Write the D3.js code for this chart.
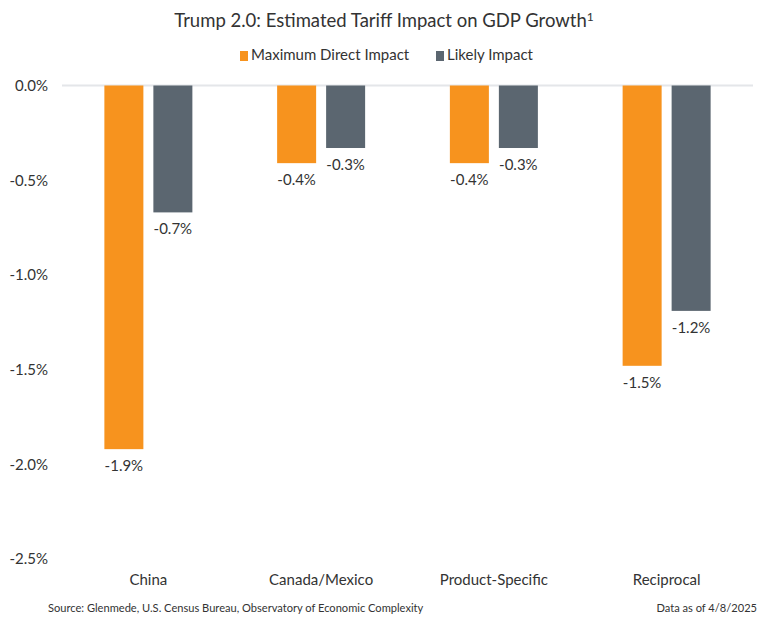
<!DOCTYPE html>
<html>
<head>
<meta charset="utf-8">
<script src="https://cdn.jsdelivr.net/npm/d3@7"></script>
<style>
  body { margin: 0; background: #fff; }
  svg text { font-family: Lato, "Open Sans", sans-serif; fill: #333; }
</style>
</head>
<body>
<div id="chart"></div>
<script>
const categories = ["China", "Canada/Mexico", "Product-Specific", "Reciprocal"];
const seriesNames = ["Maximum Direct Impact", "Likely Impact"];
const maxDirect = [-1.92, -0.41, -0.41, -1.48];
const likely = [-0.67, -0.33, -0.33, -1.19];
const yTicks = [0, -0.5, -1.0, -1.5, -2.0, -2.5];
const colors = ["#F7931E", "#5B6670"];

const rows = categories.map((c, i) => ({ cat: c, values: [maxDirect[i], likely[i]] }));

// hyphen instead of d3's unicode minus, like the original
const pct = d => d3.format(".1f")(d).replace("\u2212", "-") + "%";

const width = 768, height = 627;
const svg = d3.select("#chart")
    .append("svg")
        .attr("width", width)
        .attr("height", height);

const x0 = d3.scaleBand()
    .domain(categories)
    .range([62, 753]);

const x1 = d3.scaleBand()
    .domain(seriesNames)
    .range([-44, 44])
    .paddingInner(0.204);

const y = d3.scaleLinear()
    .domain([-2.5, 0])
    .range([559, 85.5]);

// zero line
svg.append("line")
    .attr("x1", 62).attr("x2", 753)
    .attr("y1", y(0)).attr("y2", y(0))
    .attr("stroke", "#E4E6E9")
    .attr("stroke-width", 2);

// y axis labels
const yAxis = svg.append("g")
    .attr("transform", "translate(48, 0)")
    .call(d3.axisLeft(y).tickValues(yTicks).tickSize(0).tickPadding(0).tickFormat(pct));
yAxis.select(".domain").remove();
yAxis.selectAll("text")
    .attr("font-size", "15px")
    .style("font-family", "Lato, sans-serif")
    .attr("fill", "#333");

// x axis labels
const xAxis = svg.append("g")
    .attr("transform", "translate(0, 574)")
    .call(d3.axisBottom(x0).tickSize(0).tickPadding(0));
xAxis.select(".domain").remove();
xAxis.selectAll("text")
    .attr("font-size", "15px")
    .style("font-family", "Lato, sans-serif")
    .attr("fill", "#333");

// bars
const groups = svg.selectAll(".grp")
    .data(rows)
    .enter()
    .append("g")
        .attr("class", "grp")
        .attr("transform", d => `translate(${x0(d.cat) + x0.bandwidth() / 2}, 0)`);

groups.selectAll("rect")
    .data(d => d.values.map((v, i) => ({ s: seriesNames[i], v: v, i: i })))
    .enter()
    .append("rect")
        .attr("x", d => x1(d.s))
        .attr("y", y(0))
        .attr("width", x1.bandwidth())
        .attr("height", d => y(d.v) - y(0))
        .attr("fill", d => colors[d.i]);

groups.selectAll("text.val")
    .data(d => d.values.map((v, i) => ({ s: seriesNames[i], v: v, i: i })))
    .enter()
    .append("text")
        .attr("class", "val")
        .attr("x", d => x1(d.s) + x1.bandwidth() / 2)
        .attr("y", d => y(d.v) + 18)
        .attr("dominant-baseline", "middle")
        .attr("text-anchor", "middle")
        .attr("font-size", "15px")
        .attr("fill", "#333")
        .text(d => pct(d.v));

// title
const title = svg.append("text")
    .attr("x", 384)
    .attr("y", 27)
    .attr("text-anchor", "middle")
    .attr("font-size", "18.5px")
    .attr("fill", "#333");
title.append("tspan").text("Trump 2.0: Estimated Tariff Impact on GDP Growth");
title.append("tspan").attr("font-size", "12px").attr("dy", "-6").text("1");

// legend
const legendPos = [240, 436];
const legend = svg.selectAll(".leg")
    .data(seriesNames)
    .enter()
    .append("g")
        .attr("class", "leg")
        .attr("transform", (d, i) => `translate(${legendPos[i]}, 56)`);
legend.append("rect")
    .attr("x", 0).attr("y", -5)
    .attr("width", 8).attr("height", 10)
    .attr("fill", (d, i) => colors[i]);
legend.append("text")
    .attr("x", 11)
    .attr("y", 0)
    .attr("dominant-baseline", "middle")
    .attr("font-size", "15px")
    .text(d => d);

// footer
svg.append("text")
    .attr("x", 48)
    .attr("y", 612)
    .attr("font-size", "11.1px")
    .text("Source: Glenmede, U.S. Census Bureau, Observatory of Economic Complexity");
svg.append("text")
    .attr("x", 757)
    .attr("y", 612)
    .attr("text-anchor", "end")
    .attr("font-size", "11.1px")
    .text("Data as of 4/8/2025");
</script>
</body>
</html>
